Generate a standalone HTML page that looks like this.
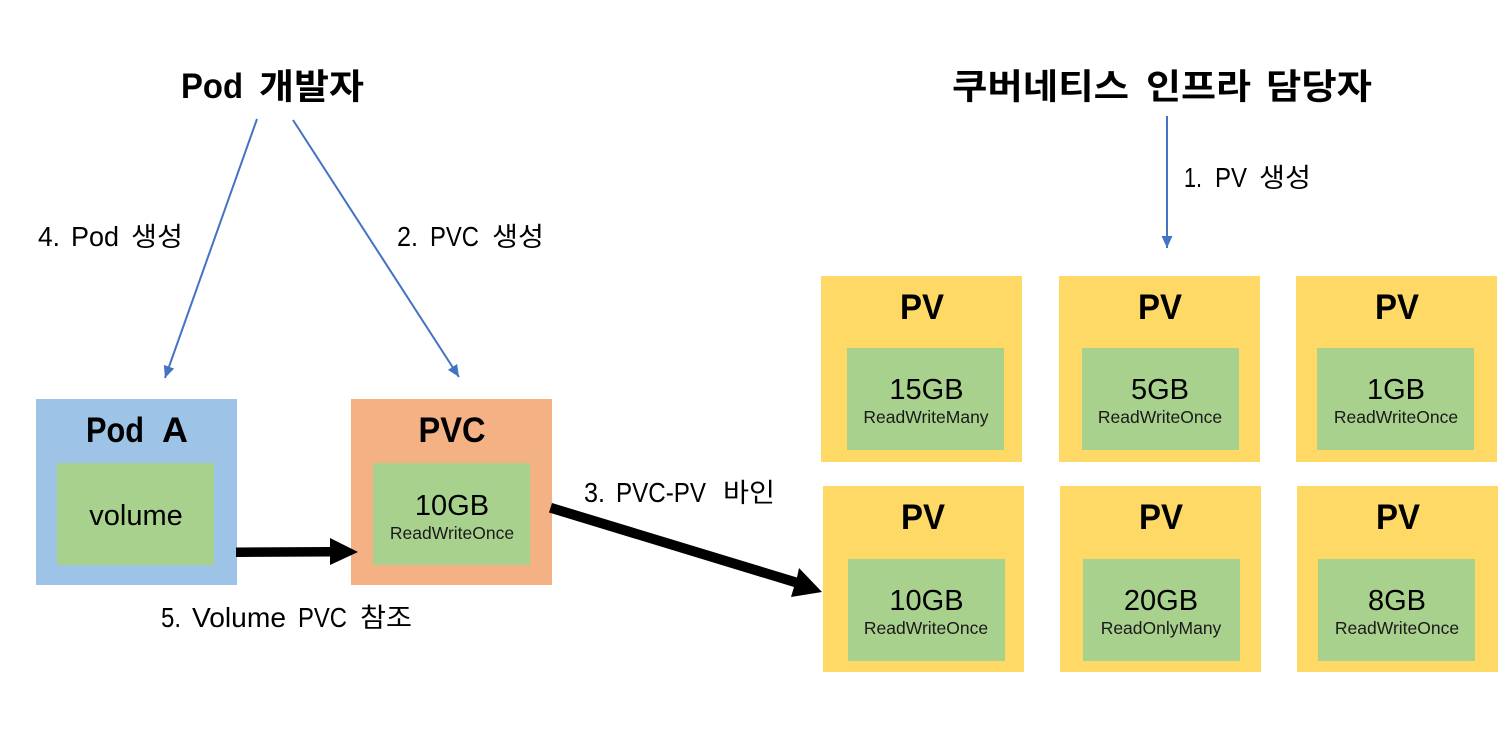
<!DOCTYPE html>
<html lang="ko">
<head>
<meta charset="utf-8">
<style>
html,body{margin:0;padding:0;background:#fff;}
svg{display:block;}
text{font-family:"Liberation Sans","Noto Sans CJK KR",sans-serif;fill:#000;}
.h{font-size:35px;font-weight:700;}
.hk{font-size:35px;font-weight:700;}
.l{font-size:28px;}
.lk{font-size:26.5px;}
.t{font-size:35px;font-weight:700;text-anchor:middle;}
.g{font-size:29px;text-anchor:middle;}
.s{font-size:17.5px;text-anchor:middle;fill:#1a1a1a;}
</style>
</head>
<body>
<svg width="1511" height="736" viewBox="0 0 1511 736" xmlns="http://www.w3.org/2000/svg">
<defs>
<marker id="a" markerWidth="13" markerHeight="13" refX="12" refY="6" orient="auto" markerUnits="userSpaceOnUse"><path d="M0 0.5L12 6L0 11.5Z" fill="#4472c4"/></marker>
</defs>
<rect width="1511" height="736" fill="#fff"/>
<text class="h" y="98"><tspan x="181" textLength="62" lengthAdjust="spacingAndGlyphs">Pod</tspan> <tspan class="hk" x="259" y="99" textLength="105" lengthAdjust="spacingAndGlyphs">개발자</tspan></text>
<text class="hk" y="99"><tspan x="952" textLength="177" lengthAdjust="spacingAndGlyphs">쿠버네티스</tspan> <tspan x="1146" textLength="105" lengthAdjust="spacingAndGlyphs">인프라</tspan> <tspan x="1266" textLength="106" lengthAdjust="spacingAndGlyphs">담당자</tspan></text>

<line x1="257" y1="119" x2="165" y2="378" stroke="#4472c4" stroke-width="2" marker-end="url(#a)"/>
<line x1="293" y1="120" x2="459" y2="377" stroke="#4472c4" stroke-width="2" marker-end="url(#a)"/>
<line x1="1167" y1="116" x2="1167" y2="248" stroke="#4472c4" stroke-width="2" marker-end="url(#a)"/>

<text class="l" y="246"><tspan x="38" textLength="22" lengthAdjust="spacingAndGlyphs">4.</tspan> <tspan x="71" textLength="48" lengthAdjust="spacingAndGlyphs">Pod</tspan> <tspan class="lk" x="131" textLength="52" lengthAdjust="spacingAndGlyphs">생성</tspan></text>
<text class="l" y="246"><tspan x="397" textLength="21" lengthAdjust="spacingAndGlyphs">2.</tspan> <tspan x="430" textLength="49" lengthAdjust="spacingAndGlyphs">PVC</tspan> <tspan class="lk" x="492" textLength="52" lengthAdjust="spacingAndGlyphs">생성</tspan></text>
<text class="l" y="187"><tspan x="1184" textLength="18" lengthAdjust="spacingAndGlyphs">1.</tspan> <tspan x="1215" textLength="32" lengthAdjust="spacingAndGlyphs">PV</tspan> <tspan class="lk" x="1259" textLength="52" lengthAdjust="spacingAndGlyphs">생성</tspan></text>
<text class="l" y="502"><tspan x="584" textLength="21" lengthAdjust="spacingAndGlyphs">3.</tspan> <tspan x="616" textLength="90" lengthAdjust="spacingAndGlyphs">PVC-PV</tspan> <tspan class="lk" x="723" textLength="52" lengthAdjust="spacingAndGlyphs">바인</tspan></text>
<text class="l" y="627"><tspan x="161" textLength="20" lengthAdjust="spacingAndGlyphs">5.</tspan> <tspan x="192" textLength="94" lengthAdjust="spacingAndGlyphs">Volume</tspan> <tspan x="298" textLength="49" lengthAdjust="spacingAndGlyphs">PVC</tspan> <tspan class="lk" x="360" textLength="52" lengthAdjust="spacingAndGlyphs">참조</tspan></text>

<rect x="36" y="399" width="201" height="186" fill="#9dc3e6"/>
<rect x="57" y="463" width="157" height="102" fill="#a9d18e"/>
<text class="h" y="442"><tspan x="86" textLength="58" lengthAdjust="spacingAndGlyphs">Pod</tspan> <tspan x="162" textLength="26" lengthAdjust="spacingAndGlyphs">A</tspan></text>
<text class="g" x="136" y="525">volume</text>

<rect x="351" y="399" width="201" height="186" fill="#f4b183"/>
<rect x="373" y="463" width="157" height="102" fill="#a9d18e"/>
<text class="t" x="452" y="442" textLength="67" lengthAdjust="spacingAndGlyphs">PVC</text>
<text class="g" x="452" y="515">10GB</text>
<text class="s" x="452" y="539">ReadWriteOnce</text>

<g>
<rect x="821" y="276" width="201" height="186" fill="#ffd966"/>
<rect x="847" y="348" width="157" height="102" fill="#a9d18e"/>
<text class="t" x="922" y="319" textLength="44" lengthAdjust="spacingAndGlyphs">PV</text>
<text class="g" x="926.5" y="399">15GB</text>
<text class="s" x="926" y="423">ReadWriteMany</text>

<rect x="1059" y="276" width="201" height="186" fill="#ffd966"/>
<rect x="1082" y="348" width="157" height="102" fill="#a9d18e"/>
<text class="t" x="1160" y="319" textLength="44" lengthAdjust="spacingAndGlyphs">PV</text>
<text class="g" x="1160" y="399">5GB</text>
<text class="s" x="1160" y="423">ReadWriteOnce</text>

<rect x="1296" y="276" width="201" height="186" fill="#ffd966"/>
<rect x="1317" y="348" width="157" height="102" fill="#a9d18e"/>
<text class="t" x="1397" y="319" textLength="44" lengthAdjust="spacingAndGlyphs">PV</text>
<text class="g" x="1396" y="399">1GB</text>
<text class="s" x="1396" y="423">ReadWriteOnce</text>

<rect x="823" y="486" width="201" height="186" fill="#ffd966"/>
<rect x="848" y="559" width="157" height="102" fill="#a9d18e"/>
<text class="t" x="923" y="529" textLength="44" lengthAdjust="spacingAndGlyphs">PV</text>
<text class="g" x="926.5" y="610">10GB</text>
<text class="s" x="926" y="634">ReadWriteOnce</text>

<rect x="1060" y="486" width="201" height="186" fill="#ffd966"/>
<rect x="1083" y="559" width="157" height="102" fill="#a9d18e"/>
<text class="t" x="1161" y="529" textLength="44" lengthAdjust="spacingAndGlyphs">PV</text>
<text class="g" x="1161" y="610">20GB</text>
<text class="s" x="1161" y="634">ReadOnlyMany</text>

<rect x="1297" y="486" width="201" height="186" fill="#ffd966"/>
<rect x="1318" y="559" width="157" height="102" fill="#a9d18e"/>
<text class="t" x="1398" y="529" textLength="44" lengthAdjust="spacingAndGlyphs">PV</text>
<text class="g" x="1397" y="610">8GB</text>
<text class="s" x="1397" y="634">ReadWriteOnce</text>
</g>

<polygon points="236,547.5 330,547 330,538 358,552 330,565 330,556.5 236,557" fill="#000"/>
<polygon points="552,503 797,577.5 799,568 822,592 791,597 794,587 549,512.5" fill="#000"/>
</svg>
</body>
</html>
